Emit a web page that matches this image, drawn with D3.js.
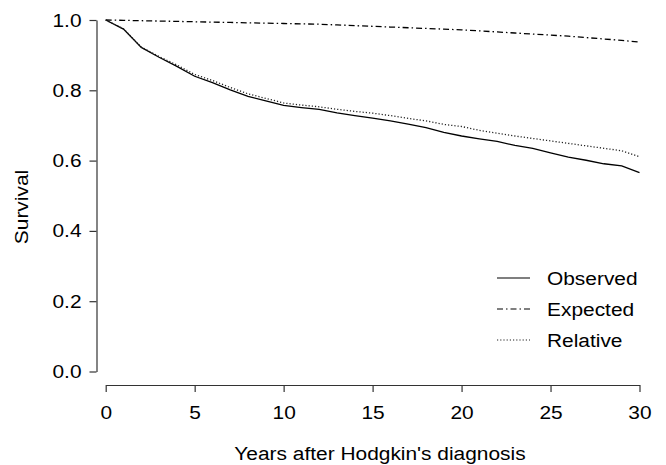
<!DOCTYPE html>
<html>
<head>
<meta charset="utf-8">
<script src="https://cdn.jsdelivr.net/npm/d3@7"></script>
<style>
  body { margin: 0; background: #fff; }
  svg text { font-family: "Liberation Sans", Arial, sans-serif; fill: #000; }
</style>
</head>
<body>
<div id="chart"></div>
<script>
// years since diagnosis
const years = d3.range(0, 31);
const observed = [1.000, 0.974, 0.922, 0.894, 0.868, 0.840, 0.822, 0.801, 0.783, 0.770,
  0.757, 0.751, 0.746, 0.736, 0.728, 0.721, 0.713, 0.704, 0.694, 0.680,
  0.670, 0.662, 0.655, 0.643, 0.635, 0.622, 0.610, 0.601, 0.591, 0.585, 0.566];
const expected = [1.000, 0.999, 0.998, 0.997, 0.996, 0.995, 0.994, 0.993, 0.992, 0.991,
  0.990, 0.989, 0.988, 0.986, 0.984, 0.982, 0.980, 0.978, 0.976, 0.974,
  0.972, 0.969, 0.966, 0.963, 0.960, 0.957, 0.954, 0.950, 0.946, 0.942, 0.937];
const relative = [1.000, 0.975, 0.923, 0.896, 0.872, 0.845, 0.828, 0.808, 0.790, 0.777,
  0.764, 0.758, 0.753, 0.746, 0.740, 0.735, 0.728, 0.720, 0.713, 0.703,
  0.697, 0.686, 0.678, 0.670, 0.663, 0.656, 0.649, 0.642, 0.635, 0.628, 0.611];
const xTicks = [0, 5, 10, 15, 20, 25, 30];
const yTicks = [0, 0.2, 0.4, 0.6, 0.8, 1.0];

const series = [
  { name: 'Observed', values: observed, dash: null, color: '#000' },
  { name: 'Expected', values: expected, dash: '6,3,1.5,3', color: '#000' },
  { name: 'Relative', values: relative, dash: '1.2,2', color: '#222' }
];

const width = 666, height = 465;
const fontSize = 19;
const stretch = 1.1; // glyphs in the original are a bit wider than Liberation Sans

const svg = d3.select('#chart').append('svg')
  .attr('width', width)
  .attr('height', height);

const x = d3.scaleLinear().domain([0, 30]).range([105.7, 639.5]);
const y = d3.scaleLinear().domain([0, 1]).range([371.5, 20]);

// y axis, R style (detached)
const yAxis = svg.append('g')
  .attr('transform', 'translate(96.5,0)')
  .call(d3.axisLeft(y).tickValues(yTicks).tickSize(7).tickSizeOuter(0).tickPadding(8)
    .tickFormat(d3.format('.1f')));

// x axis
const xAxis = svg.append('g')
  .attr('transform', 'translate(0,385)')
  .call(d3.axisBottom(x).tickValues(xTicks).tickSize(7).tickSizeOuter(0).tickPadding(14)
    .tickFormat(d3.format('d')));

[yAxis, xAxis].forEach(g => {
  g.select('.domain').attr('stroke', '#333').attr('stroke-width', 1.2);
  g.selectAll('.tick line').attr('stroke', '#333').attr('stroke-width', 1.2);
  g.selectAll('.tick text').attr('font-size', fontSize).attr('fill', '#000')
    .style('font-family', '"Liberation Sans", Arial, sans-serif');
});
yAxis.selectAll('.tick text').attr('x', -15 / stretch).attr('transform', `scale(${stretch},1)`);
xAxis.selectAll('.tick text').attr('transform', `scale(${stretch},1)`);

// axis titles
svg.append('text')
  .attr('transform', `translate(380,460) scale(${stretch},1)`)
  .attr('text-anchor', 'middle')
  .attr('font-size', fontSize)
  .text("Years after Hodgkin's diagnosis");

svg.append('text')
  .attr('transform', `translate(28,207) rotate(-90) scale(${stretch},1)`)
  .attr('text-anchor', 'middle')
  .attr('font-size', fontSize)
  .text('Survival');

// curves
const line = d3.line()
  .x((d, i) => x(years[i]))
  .y(d => y(d));

series.forEach(s => {
  svg.append('path')
    .datum(s.values)
    .attr('d', line)
    .attr('fill', 'none')
    .attr('stroke', s.color)
    .attr('stroke-width', 1.3)
    .attr('stroke-dasharray', s.dash);
});

// legend
const legendRows = [278, 309, 340];
series.forEach((s, i) => {
  const g = svg.append('g').attr('transform', `translate(0,${legendRows[i]})`);
  g.append('line')
    .attr('x1', 497).attr('x2', 530)
    .attr('y1', 0).attr('y2', 0)
    .attr('stroke', s.color)
    .attr('stroke-width', 1.1)
    .attr('stroke-dasharray', s.dash);
  g.append('text')
    .attr('transform', `translate(547,0) scale(${stretch},1)`)
    .attr('dy', '0.35em')
    .attr('font-size', fontSize)
    .text(s.name);
});
</script>
</body>
</html>
